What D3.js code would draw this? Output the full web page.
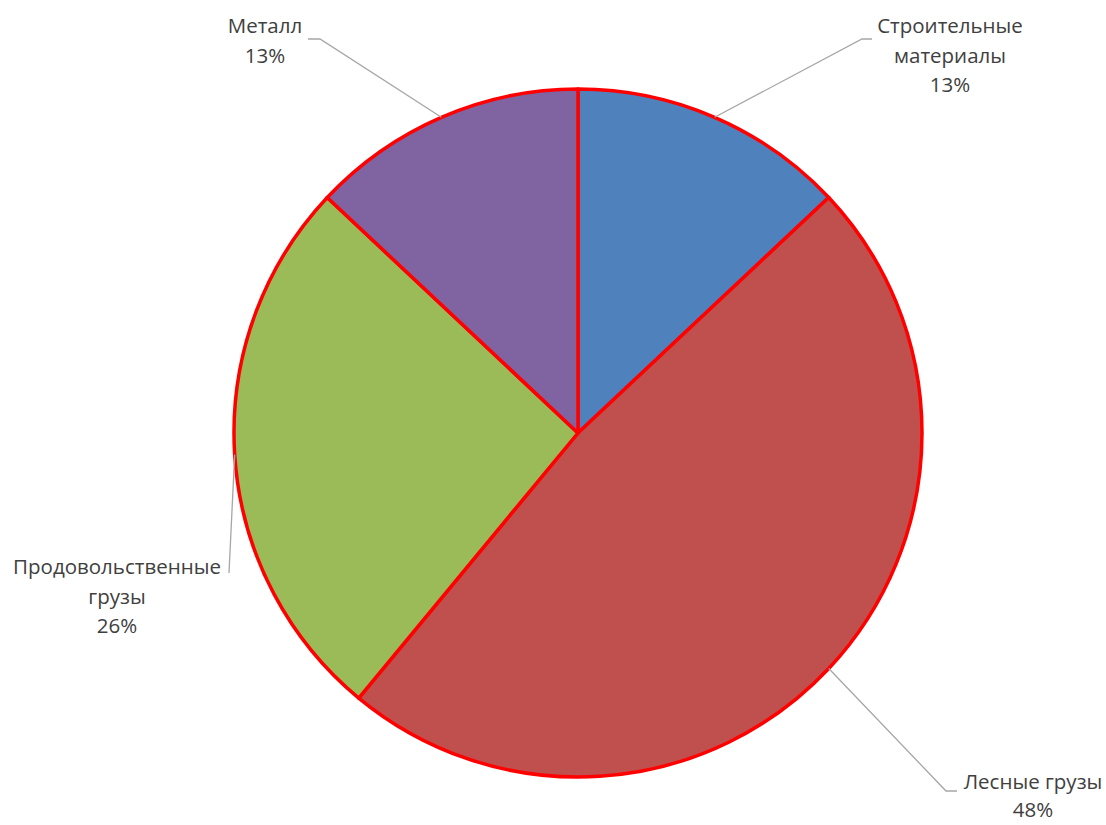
<!DOCTYPE html>
<html>
<head>
<meta charset="utf-8">
<script src="https://cdn.jsdelivr.net/npm/d3@7"></script>
<style>
  html, body { margin: 0; padding: 0; background: #fff; }
  svg { display: block; }
  text { font-family: "Open Sans", "Noto Sans", sans-serif; fill: #404040; }
</style>
</head>
<body>
<svg id="chart" width="1106" height="825"></svg>
<script>
// Cargo structure by type (percent)
const categories = ["Строительные материалы", "Лесные грузы", "Продовольственные грузы", "Металл"];
const values = [13, 48, 26, 13];
const labelLines = [
  ["Строительные", "материалы"],
  ["Лесные грузы"],
  ["Продовольственные", "грузы"],
  ["Металл"]
];
const colors = ["#4F81BD", "#C0504D", "#9BBB59", "#8064A2"];

const W = 1106, H = 825;
const cx = 578, cy = 433, R = 344;

// Label block placement: anchor of the text block, line step and end of the leader line
const labelLayout = [
  { x: 950, y: 33, step: 29.5, lead: [[872, 39], [862, 39]] },
  { x: 1033, y: 789, step: 28, lead: [[957, 791], [946, 791]] },
  { x: 117, y: 574, step: 29.5, lead: [[229, 573]] },
  { x: 265, y: 33, step: 29.5, lead: [[308, 39], [320, 39]] }
];

const svg = d3.select("#chart");
const g = svg.append("g").attr("transform", `translate(${cx},${cy})`);

const pie = d3.pie().sort(null).value(d => d)(values);
const arc = d3.arc().innerRadius(0).outerRadius(R);

g.selectAll("path.slice")
  .data(pie)
  .join("path")
  .attr("class", "slice")
  .attr("d", arc)
  .attr("fill", (d, i) => colors[i])
  .attr("stroke", "#FF0000")
  .attr("stroke-width", 3.5)
  .attr("stroke-linejoin", "round");

// Leader lines from the middle of each slice's outer edge to its label
const leaderGen = d3.line();
pie.forEach((d, i) => {
  const a = (d.startAngle + d.endAngle) / 2;
  const p0 = [cx + R * Math.sin(a), cy - R * Math.cos(a)];
  const lay = labelLayout[i];
  const pts = lay.lead.length === 2 ? [lay.lead[0], lay.lead[1], p0] : [p0, lay.lead[0]];
  svg.append("path")
    .attr("d", leaderGen(pts))
    .attr("fill", "none")
    .attr("stroke", "#A6A6A6")
    .attr("stroke-width", 1.3);
});

// Data labels: category name and percentage
const fmt = v => v + "%";
pie.forEach((d, i) => {
  const lay = labelLayout[i];
  const lines = labelLines[i].concat([fmt(values[i])]);
  const t = svg.append("text")
    .attr("text-anchor", "middle")
    .attr("font-size", 20.5);
  lines.forEach((ln, k) => {
    t.append("tspan")
      .attr("x", lay.x)
      .attr("y", lay.y + k * lay.step)
      .text(ln);
  });
});
</script>
</body>
</html>
